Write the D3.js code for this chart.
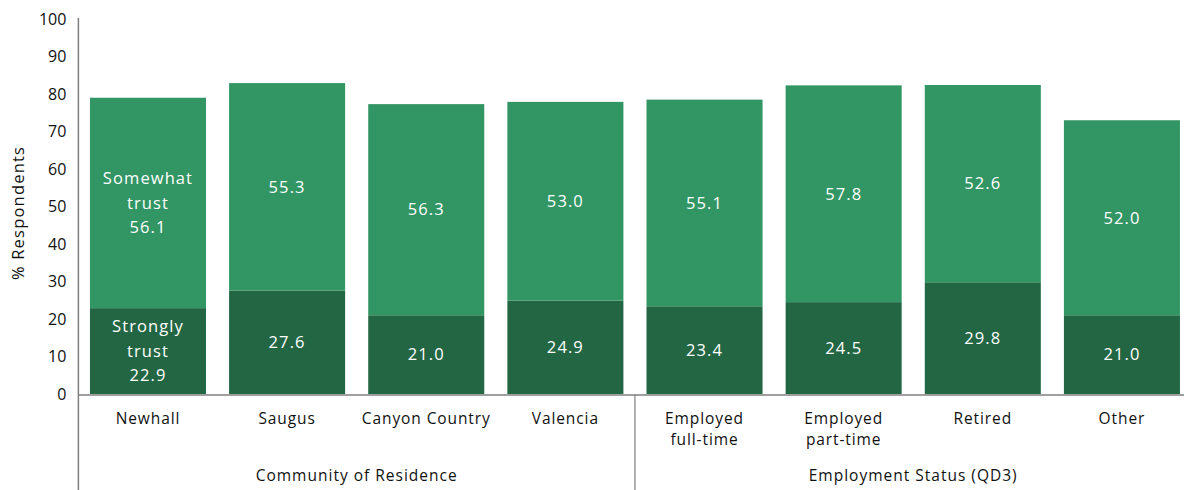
<!DOCTYPE html>
<html>
<head>
<meta charset="utf-8">
<script src="https://cdn.jsdelivr.net/npm/d3@7"></script>
<style>
  html, body { margin: 0; padding: 0; background: #fff; }
  svg { display: block; font-family: "Open Sans", "Noto Sans", sans-serif; }
</style>
</head>
<body>
<svg id="chart" width="1184" height="490"></svg>
<script>
// Trust levels by community and by employment status
const categories = ["Newhall", "Saugus", "Canyon Country", "Valencia",
                    "Employed\nfull-time", "Employed\npart-time", "Retired", "Other"];
const groups = [
  { name: "Community of Residence", from: 0, to: 4 },
  { name: "Employment Status (QD3)", from: 4, to: 8 }
];
const stronglyTrust = [22.9, 27.6, 21.0, 24.9, 23.4, 24.5, 29.8, 21.0];
const somewhatTrust = [56.1, 55.3, 56.3, 53.0, 55.1, 57.8, 52.6, 52.0];
const seriesNames = ["Strongly\ntrust", "Somewhat\ntrust"];
const yTicks = [0, 10, 20, 30, 40, 50, 60, 70, 80, 90, 100];

const colors = ["#236644", "#329564"];

const svg = d3.select("#chart");
const plotLeft = 78.4, plotRight = 1191.5, plotTop = 19, plotBottom = 394;

const x = d3.scaleBand()
  .domain(d3.range(categories.length))
  .range([plotLeft, plotRight])
  .paddingInner(0.166)
  .paddingOuter(0.083);

const y = d3.scaleLinear().domain([0, 100]).range([plotBottom, plotTop]);

// stacked rows
const rows = categories.map((c, i) => ({ i, strong: stronglyTrust[i], some: somewhatTrust[i] }));
const stack = d3.stack().keys(["strong", "some"]);
const layers = stack(rows);

const g = svg.append("g");
layers.forEach((layer, k) => {
  g.selectAll(null).data(layer).enter().append("rect")
    .attr("x", d => x(d.data.i))
    .attr("width", x.bandwidth())
    .attr("y", d => y(d[1]))
    .attr("height", d => y(d[0]) - y(d[1]))
    .attr("fill", colors[k]);
});

// value labels, centered in each segment; first bar carries the series names
const lh = 24.5;
layers.forEach((layer, k) => {
  layer.forEach(d => {
    const v = k === 0 ? d.data.strong : d.data.some;
    const lines = d.data.i === 0 ? seriesNames[k].split("\n").concat([v.toFixed(1)]) : [v.toFixed(1)];
    const cx = x(d.data.i) + x.bandwidth() / 2;
    const cy = (y(d[0]) + y(d[1])) / 2;
    const t = g.append("text")
      .attr("text-anchor", "middle")
      .attr("fill", "#ffffff")
      .attr("font-size", 16.5)
      .attr("letter-spacing", 1.1);
    lines.forEach((ln, j) => {
      t.append("tspan")
        .attr("x", cx)
        .attr("y", cy + (j - (lines.length - 1) / 2) * lh)
        .attr("dy", "0.35em")
        .text(ln);
    });
  });
});

// y axis
const yAxis = d3.axisLeft(y).tickValues(yTicks).tickSize(0).tickPadding(12);
const ya = svg.append("g").attr("transform", `translate(${plotLeft},0)`).call(yAxis);
ya.select(".domain").remove();
ya.selectAll("text").attr("font-size", 16).attr("fill", "#111")
  .attr("font-family", "'Open Sans', sans-serif");

svg.append("line").attr("x1", plotLeft).attr("x2", plotLeft).attr("y1", plotTop - 1).attr("y2", 490)
  .attr("stroke", "#7f7f7f").attr("stroke-width", 1.5);
svg.append("line").attr("x1", plotLeft).attr("x2", plotRight).attr("y1", plotBottom + 1).attr("y2", plotBottom + 1)
  .attr("stroke", "#7f7f7f").attr("stroke-width", 1.5);

// group divider
groups.slice(1).forEach(gr => {
  const xd = x(gr.from) - x.step() * x.paddingInner() / 2;
  svg.append("line").attr("x1", xd).attr("x2", xd).attr("y1", plotBottom + 1).attr("y2", 490)
    .attr("stroke", "#7f7f7f").attr("stroke-width", 1.2);
});

// category labels
categories.forEach((c, i) => {
  const t = svg.append("text")
    .attr("text-anchor", "middle").attr("font-size", 15.5).attr("fill", "#111")
    .attr("letter-spacing", 0.9);
  c.split("\n").forEach((ln, j) => {
    t.append("tspan").attr("x", x(i) + x.bandwidth() / 2).attr("y", 424 + j * 21).text(ln);
  });
});

// group labels
groups.forEach(gr => {
  const x0 = x(gr.from) - x.step() * x.paddingInner() / 2;
  const x1 = x(gr.to - 1) + x.bandwidth() + x.step() * x.paddingInner() / 2;
  svg.append("text").attr("x", (x0 + x1) / 2).attr("y", 481)
    .attr("text-anchor", "middle").attr("font-size", 15.5).attr("fill", "#111")
    .attr("letter-spacing", 1.0)
    .text(gr.name);
});

// y axis title
svg.append("text")
  .attr("transform", `translate(24,213) rotate(-90)`)
  .attr("text-anchor", "middle").attr("font-size", 16.5).attr("fill", "#111")
  .attr("letter-spacing", 1.2)
  .text("% Respondents");
</script>
</body>
</html>
